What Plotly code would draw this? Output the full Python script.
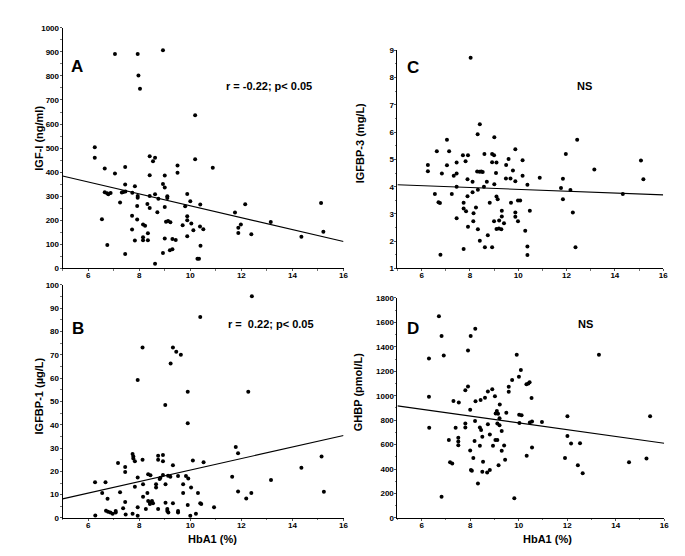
import plotly.graph_objects as go

# ---------------- data ----------------
A_x = [7.05, 7.94, 8.93, 7.97, 8.03, 10.19, 6.26, 6.26, 8.41, 8.62, 8.54, 10.19, 10.88, 9.50, 6.65, 7.45, 7.05, 8.41, 9.0, 9.50,
       7.45, 7.83, 8.93, 9.0, 6.65, 6.74, 6.79, 6.88, 7.32, 7.38, 7.46, 7.73, 7.94, 7.94, 8.41, 8.62, 9.1, 9.1, 9.88, 10.0,
       8.75, 7.25, 7.92, 8.32, 8.41, 9.0, 9.80, 10.39, 12.15, 15.12, 11.75, 8.71, 7.72, 9.88, 9.88, 7.92, 6.54, 8.15, 8.23, 9.05,
       9.13, 9.22, 10.04, 9.7, 10.38, 10.51, 10.12, 7.72, 8.34, 11.88, 11.88, 11.98, 12.39, 13.15, 14.35, 15.21, 8.15, 8.15, 7.83, 8.34,
       9.0, 9.3, 9.43, 9.88, 10.4, 6.75, 7.45, 9.2, 9.3, 8.93, 10.28, 10.34, 8.62]
A_y = [891, 891, 907, 802, 747, 636, 504, 460, 466, 460, 445, 454, 418, 428, 415, 422, 395, 387, 386, 398,
       349, 342, 351, 336, 317, 312, 308, 314, 316, 318, 320, 315, 301, 294, 301, 308, 300, 293, 309, 279,
       290, 274, 260, 268, 251, 255, 259, 266, 267, 272, 233, 234, 219, 217, 200, 203, 204, 183, 178, 194,
       197, 192, 187, 180, 174, 163, 159, 162, 146, 147, 169, 183, 142, 193, 132, 153, 130, 117, 116, 117,
       125, 122, 118, 134, 94, 98, 60, 76, 80, 64, 40, 40, 20]

C_x = [8.03, 8.41, 8.32, 9.01, 7.05, 12.44, 6.63, 7.14, 9.88, 7.71, 7.92, 8.6, 8.92, 9.0, 11.97, 6.26, 6.26, 7.05, 7.45, 7.82,
       8.92, 9.1, 9.6, 9.5, 10.18, 15.08, 6.84, 7.33, 7.45, 8.3, 8.4, 8.47, 8.53, 9.08, 9.78, 10.18, 13.15, 7.9, 8.11, 8.7,
       9.49, 9.68, 9.88, 10.89, 10.38, 9.01, 11.85, 15.18, 7.45, 8.58, 8.33, 8.11, 11.77, 12.16, 6.55, 7.25, 7.9, 9.1, 14.33, 6.7,
       6.76, 7.74, 8.82, 9.15, 9.7, 9.99, 10.08, 11.85, 7.74, 8.25, 7.84, 8.15, 9.32, 9.88, 10.48, 12.26, 7.45, 8.14, 9.0, 9.21,
       9.32, 9.88, 9.99, 9.41, 7.92, 8.33, 9.1, 9.2, 9.3, 10.29, 8.41, 8.74, 7.74, 8.62, 8.92, 10.38, 12.37, 6.78, 10.38]
C_y = [8.73, 6.29, 5.92, 5.81, 5.72, 5.72, 5.3, 5.3, 5.37, 5.15, 5.15, 5.2, 5.2, 5.15, 5.2, 4.8, 4.57, 4.79, 4.89, 4.93,
       4.9, 4.89, 5.02, 4.8, 4.97, 4.96, 4.48, 4.4, 4.48, 4.56, 4.55, 4.56, 4.54, 4.5, 4.59, 4.4, 4.63, 4.27, 4.18, 4.18,
       4.3, 4.3, 4.2, 4.33, 4.07, 4.09, 4.29, 4.27, 4.0, 4.0, 3.89, 3.8, 3.95, 3.88, 3.73, 3.73, 3.65, 3.64, 3.73, 3.43,
       3.4, 3.41, 3.41, 3.54, 3.41, 3.49, 3.49, 3.54, 3.2, 3.24, 3.1, 3.03, 3.12, 3.05, 3.12, 3.05, 2.84, 2.73, 2.73, 2.76,
       2.91, 2.9, 2.73, 2.66, 2.53, 2.44, 2.45, 2.47, 2.44, 2.38, 2.02, 2.22, 1.71, 1.78, 1.78, 1.81, 1.78, 1.5, 1.49]

B_x = [12.41, 10.39, 8.13, 9.32, 9.45, 9.63, 9.23, 7.94, 9.9, 12.27, 9.02, 9.9, 11.78, 11.87, 7.74, 7.77, 7.77, 7.83, 8.74, 8.74,
       8.93, 8.93, 8.13, 10.1, 10.52, 7.17, 9.32, 7.45, 7.45, 14.35, 15.14, 6.27, 6.68, 7.94, 8.35, 8.44, 8.83, 8.93, 9.13, 9.22,
       9.52, 9.83, 9.92, 11.64, 8.8, 8.66, 8.66, 8.15, 9.03, 9.72, 13.16, 7.83, 10.03, 6.55, 7.25, 8.32, 9.72, 10.3, 11.87, 12.39,
       15.23, 8.15, 12.19, 6.76, 7.45, 8.35, 8.43, 8.5, 8.42, 9.03, 9.32, 10.39, 10.43, 9.9, 8.74, 8.26, 7.94, 7.37, 10.93, 6.7,
       6.78, 6.87, 6.96, 7.08, 7.08, 9.1, 9.1, 9.14, 9.52, 9.52, 8.54, 6.28, 7.47, 7.74, 7.94, 10.0, 10.22]
B_y = [95.1, 86.2, 73.1, 73.1, 71.3, 70.0, 66.2, 59.2, 54.1, 54.1, 48.4, 40.6, 30.4, 27.8, 27.4, 26.4, 25.5, 24.3, 26.7, 25.0,
       27.0, 24.3, 25.0, 24.6, 23.9, 23.6, 22.6, 21.9, 19.7, 21.5, 26.4, 15.3, 15.3, 17.4, 18.7, 18.3, 17.3, 18.4, 18.1, 17.7,
       18.0, 18.0, 16.9, 17.7, 16.7, 14.5, 13.1, 14.5, 14.5, 14.5, 16.3, 13.4, 13.1, 10.7, 11.0, 10.7, 10.7, 10.7, 11.4, 10.7,
       11.3, 9.1, 8.4, 8.2, 6.8, 7.3, 6.6, 7.3, 6.0, 6.5, 6.3, 6.3, 6.0, 5.6, 3.9, 3.8, 4.6, 4.2, 4.6, 3.1,
       2.7, 2.4, 1.8, 3.0, 2.3, 3.9, 3.0, 2.4, 3.0, 2.3, 6.3, 1.1, 1.5, 1.8, 1.0, 1.0, 1.8]

D_x = [6.71, 6.82, 8.02, 8.21, 7.91, 6.91, 6.3, 9.92, 13.31, 10.09, 10.01, 9.73, 10.4, 10.32, 10.45, 7.91, 9.59, 7.8, 8.91, 8.73,
       9.59, 6.3, 9.02, 8.61, 10.53, 7.31, 7.53, 8.22, 8.43, 9.22, 8.0, 9.49, 9.05, 9.15, 9.1, 10.02, 10.12, 15.42, 12.01, 9.21,
       10.55, 10.46, 10.96, 8.2, 10.03, 9.12, 9.21, 8.73, 7.8, 7.8, 6.31, 7.40, 8.4, 8.45, 9.3, 8.5, 8.81, 12.01, 7.51, 7.51,
       7.51, 7.12, 8.18, 9.04, 9.12, 12.16, 12.53, 8.94, 8.4, 9.40, 8.0, 10.55, 9.3, 10.33, 8.13, 11.91, 15.27, 7.17, 7.26, 8.53,
       9.44, 9.17, 12.44, 14.55, 8.03, 8.07, 8.81, 8.70, 8.5, 12.64, 8.32, 6.82, 9.82]
D_y = [1650, 1489, 1489, 1548, 1371, 1330, 1304, 1336, 1336, 1210, 1156, 1129, 1100, 1095, 1110, 1076, 1073, 1046, 1054, 1035,
       1033, 992, 995, 984, 982, 958, 944, 955, 965, 928, 885, 861, 855, 853, 875, 845, 840, 832, 832, 815,
       790, 782, 786, 794, 778, 772, 759, 767, 772, 740, 738, 738, 740, 719, 711, 665, 684, 671, 657, 625,
       596, 638, 630, 638, 638, 609, 612, 590, 590, 593, 553, 577, 550, 510, 491, 491, 486, 456, 445, 461,
       477, 432, 432, 456, 392, 387, 392, 373, 378, 365, 282, 174, 161]

# regression lines (end values read at HbA1 = 5 and 16)
FIT_X = [5, 16]
A_fit = [384, 112]
B_fit = [8.2, 35.4]
C_fit = [4.07, 3.70]
D_fit = [917, 612]

X_TICKS = [6, 8, 10, 12, 14, 16]
A_ticks = list(range(0, 1001, 100))
B_ticks = list(range(0, 101, 10))
C_ticks = list(range(1, 10))
D_ticks = list(range(0, 1801, 200))

W, H = 685, 556
FONT = "Liberation Sans, Arial, sans-serif"


def px(x):
    return x / W


def py(y):
    return 1 - y / H


fig = go.Figure()

panels = [
    ("A", A_x, A_y, A_fit, "x", "y"),
    ("C", C_x, C_y, C_fit, "x2", "y2"),
    ("B", B_x, B_y, B_fit, "x3", "y3"),
    ("D", D_x, D_y, D_fit, "x4", "y4"),
]
for name, xs, ys, fit, xa, ya in panels:
    assert len(xs) == len(ys), name
    fig.add_trace(go.Scatter(x=xs, y=ys, mode="markers", xaxis=xa, yaxis=ya,
                             marker=dict(color="black", size=4, line=dict(width=0)),
                             showlegend=False, hoverinfo="skip"))
    fig.add_trace(go.Scatter(x=FIT_X, y=fit, mode="lines", xaxis=xa, yaxis=ya,
                             line=dict(color="black", width=1.1),
                             showlegend=False, hoverinfo="skip"))

tickfont = dict(family=FONT, size=8, color="black", weight="bold")
common_x = dict(range=[5, 16], tickvals=X_TICKS, showline=True, linecolor="black", linewidth=1,
                ticks="outside", ticklen=2, tickcolor="#555", tickwidth=1, showgrid=False,
                zeroline=False, tickfont=tickfont, fixedrange=True, ticklabelstandoff=-3,
                minor=dict(ticks="outside", ticklen=1.5, tickcolor="#777", dtick=1, showgrid=False))
common_y = dict(showline=True, linecolor="black", linewidth=1, ticks="outside", ticklen=2,
                tickcolor="#555", tickwidth=1, showgrid=False, zeroline=False, tickfont=tickfont,
                fixedrange=True, ticklabelstandoff=-1)

# domains in pixels (left, right, top, bottom)
dom = {
    "A": (55, 338, 16, 260.7),
    "C": (392.3, 660, 39, 260.7),
    "B": (55, 338, 277.3, 514.3),
    "D": (392.3, 661, 290.7, 514.3),
}


def xd(k):
    l, r, t, b = dom[k]
    return [px(l), px(r)]


def yd(k):
    l, r, t, b = dom[k]
    return [py(b), py(t)]


fig.update_layout(
    width=W, height=H, margin=dict(l=0, r=0, t=0, b=0),
    paper_bgcolor="white", plot_bgcolor="white",
    font=dict(family=FONT, color="black"),
    xaxis=dict(domain=xd("A"), anchor="y", **common_x),
    yaxis=dict(domain=yd("A"), anchor="x", range=[0, 1000], tickvals=A_ticks,
               minor=dict(ticks="outside", ticklen=1.5, tickcolor="#777", dtick=50), **common_y),
    xaxis2=dict(domain=xd("C"), anchor="y2", **common_x),
    yaxis2=dict(domain=yd("C"), anchor="x2", range=[1, 9], tickvals=C_ticks,
                minor=dict(ticks="outside", ticklen=1.5, tickcolor="#777", dtick=0.5), **common_y),
    xaxis3=dict(domain=xd("B"), anchor="y3", **common_x),
    yaxis3=dict(domain=yd("B"), anchor="x3", range=[0, 100], tickvals=B_ticks,
                minor=dict(ticks="outside", ticklen=1.5, tickcolor="#777", dtick=5), **common_y),
    xaxis4=dict(domain=xd("D"), anchor="y4", **common_x),
    yaxis4=dict(domain=yd("D"), anchor="x4", range=[0, 1800], tickvals=D_ticks,
                minor=dict(ticks="outside", ticklen=1.5, tickcolor="#777", dtick=100), **common_y),
)


def ann(text, x, y, size, angle=0):
    fig.add_annotation(text=text, x=px(x), y=py(y), xref="paper", yref="paper",
                       xanchor="center", yanchor="middle", showarrow=False, textangle=angle,
                       font=dict(family=FONT, size=size, color="black", weight="bold"))


# panel letters
ann("A", 70, 55.5, 17)
ann("C", 407.5, 56.5, 17)
ann("B", 70.5, 322, 17)
ann("D", 408, 322, 17)
# statistics
ann("r = -0.22; p< 0.05", 263, 75, 11)
ann("r =  0.22; p< 0.05", 265, 317, 11)
ann("NS", 581, 75, 11)
ann("NS", 582, 317, 11)
# axis titles
ann("IGF-I (ng/ml)", 31, 128, 11, -90)
ann("IGFBP-3 (mg/L)", 354, 133, 11, -90)
ann("IGFBP-1 (µg/L)", 31, 390, 11, -90)
ann("GHBP (pmol/L)", 352, 386, 11, -90)
ann("HbA1 (%)", 206, 536, 11)
ann("HbA1 (%)", 543, 536, 11)

fig.write_html("out.html")
